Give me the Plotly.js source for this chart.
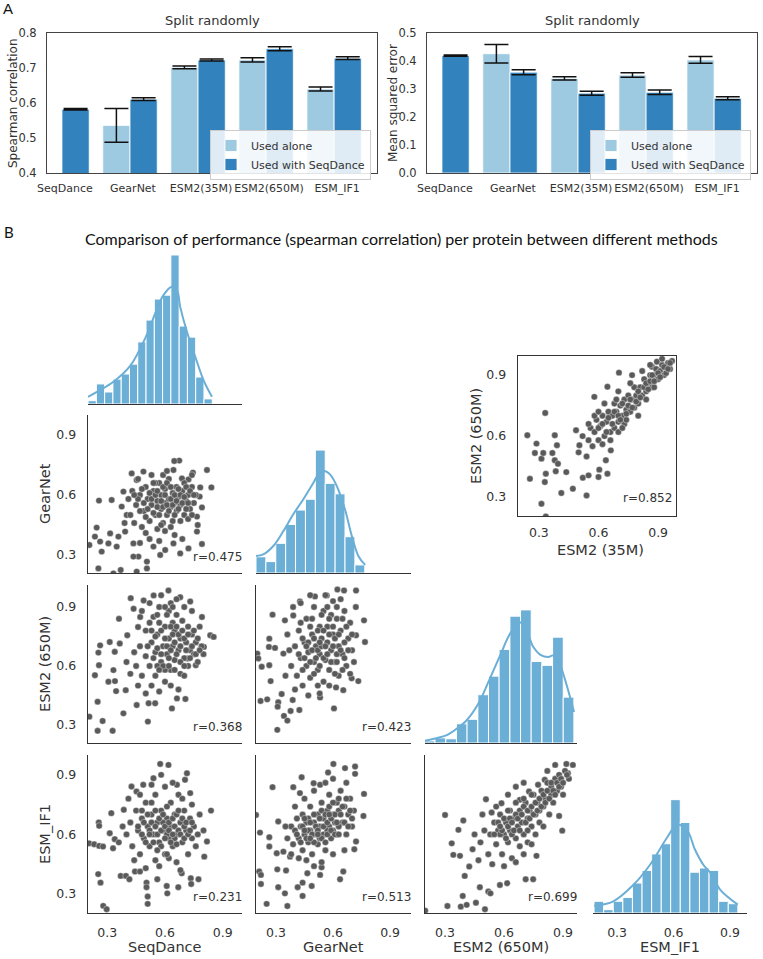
<!DOCTYPE html>
<html><head><meta charset="utf-8">
<script src="https://cdn.plot.ly/plotly-3.0.1.min.js"></script>
<style>html,body{margin:0;padding:0;background:#fff}#chart{width:763px;height:959px}</style>
</head><body><div id="chart"></div>
<script>
// ---------- Panel A data ----------
const barCategories = ['SeqDance','GearNet','ESM2(35M)','ESM2(650M)','ESM_IF1'];
const spearmanAlone    = [null, 0.536, 0.702, 0.723, 0.640];
const spearmanAloneErr = [null, 0.048, 0.004, 0.006, 0.006];
const spearmanWith     = [0.582, 0.611, 0.723, 0.755, 0.728];
const spearmanWithErr  = [0.002, 0.004, 0.003, 0.006, 0.004];
const mseAlone    = [null, 0.426, 0.338, 0.350, 0.404];
const mseAloneErr = [null, 0.033, 0.006, 0.008, 0.012];
const mseWith     = [0.419, 0.360, 0.285, 0.288, 0.267];
const mseWithErr  = [0.002, 0.009, 0.007, 0.008, 0.005];
const seriesNames = ['Used alone','Used with SeqDance'];

// ---------- Panel B: diagonal histograms (bin centres, bin width, heights) ----------
const methodNames = ['SeqDance','GearNet','ESM2 (650M)','ESM_IF1'];
const hist1X = [0.222,0.265,0.308,0.351,0.394,0.437,0.480,0.523,0.566,0.609,0.652,0.695,0.738,0.781,0.824];
const hist1Y = [1.1,6.7,4.0,8.3,10.0,13.3,20.7,28.0,35.0,36.3,49.7,26.0,22.3,9.0,1.7];
const hist2X = [0.221,0.273,0.325,0.377,0.429,0.481,0.533,0.585,0.637,0.689,0.741];
const hist2Y = [5.4,3.8,9.9,16.2,21.0,24.6,41.0,29.9,26.4,12.1,2.7];
const hist3X = [0.222,0.276,0.331,0.385,0.439,0.494,0.548,0.602,0.657,0.711,0.765,0.820,0.874,0.928];
const hist3Y = [0.7,1.7,1.4,6.4,7.9,16.1,22.3,31.2,42.3,44.4,27.2,25.9,35.3,15.3];
const hist4X = [0.203,0.254,0.305,0.356,0.407,0.458,0.509,0.560,0.610,0.661,0.712,0.763,0.814,0.865,0.916];
const hist4Y = [3.9,1.1,3.9,5.2,10.0,14.2,19.7,23.1,37.8,30.2,13.6,15.0,14.2,3.9,3.1];
const histBinWidths = [0.043,0.052,0.0543,0.0509];
// KDE curves
const kde1X = [0.2,0.249,0.332,0.419,0.505,0.549,0.592,0.636,0.662,0.679,0.714,0.757,0.8,0.844];
const kde1Y = [2.4,4.1,7.4,12.7,23,30.2,36.3,39.1,38,32.4,24.1,15.8,8,2.4];
const kde2X = [0.195,0.233,0.286,0.339,0.391,0.444,0.497,0.523,0.553,0.584,0.62,0.663,0.699,0.733,0.769];
const kde2Y = [5.7,6.2,9,14,19.6,24.6,30.1,32.9,34,32.9,29,21.2,12.3,5.7,2.7];
const kde3X = [0.195,0.249,0.309,0.36,0.41,0.469,0.52,0.58,0.631,0.681,0.716,0.749,0.783,0.825,0.851,0.885,0.919,0.956];
const kde3Y = [0.7,1.5,2.6,4.8,7.6,13.1,20.3,29.2,36.5,40.3,37,32,29.5,28.7,29.2,25.9,19.2,10.3];
const kde4X = [0.178,0.28,0.387,0.475,0.564,0.617,0.67,0.714,0.758,0.803,0.847,0.941];
const kde4Y = [2.4,3.9,9.4,16.1,25,29.4,27.8,21.1,16.1,12.8,7.8,2.8];

// ---------- Panel B: scatter points [x, y] ----------
const seqVsGear = [[0.207,0.35],[0.257,0.572],[0.245,0.437],[0.236,0.392],[0.263,0.367],[0.271,0.317],[0.254,0.233],[0.332,0.208],[0.37,0.225],[0.453,0.217],[0.506,0.233],[0.462,0.292],[0.506,0.267],[0.315,0.408],[0.306,0.358],[0.349,0.342],[0.323,0.575],[0.375,0.542],[0.358,0.392],[0.393,0.417],[0.384,0.617],[0.401,0.5],[0.427,0.708],[0.453,0.675],[0.488,0.717],[0.436,0.292],[0.436,0.358],[0.54,0.342],[0.575,0.3],[0.601,0.325],[0.644,0.725],[0.674,0.772],[0.648,0.77],[0.688,0.683],[0.722,0.678],[0.745,0.712],[0.818,0.725],[0.841,0.638],[0.783,0.638],[0.78,0.592],[0.792,0.538],[0.766,0.492],[0.722,0.333],[0.792,0.355],[0.679,0.308],[0.644,0.358],[0.766,0.417],
[0.45,0.55],[0.47,0.6],[0.49,0.52],[0.5,0.64],[0.51,0.58],[0.52,0.47],[0.53,0.55],[0.54,0.62],[0.55,0.5],[0.56,0.57],[0.57,0.66],[0.58,0.53],[0.58,0.6],[0.59,0.46],[0.6,0.56],[0.6,0.63],[0.61,0.5],[0.62,0.58],[0.62,0.68],[0.63,0.54],[0.64,0.61],[0.64,0.47],[0.65,0.56],[0.66,0.64],[0.66,0.52],[0.67,0.59],[0.68,0.55],[0.69,0.62],[0.7,0.5],[0.7,0.66],[0.71,0.57],[0.72,0.6],[0.73,0.53],[0.74,0.64],[0.75,0.56],[0.76,0.6],[0.77,0.45],[0.48,0.44],[0.5,0.41],[0.43,0.62],[0.42,0.5],[0.44,0.46],[0.46,0.68],[0.53,0.7],[0.56,0.43],[0.6,0.42],[0.63,0.44],[0.68,0.47],[0.72,0.48],[0.55,0.66],[0.59,0.7],[0.52,0.38],[0.57,0.37],[0.65,0.4],[0.69,0.38],[0.47,0.36],[0.41,0.58],[0.39,0.46],[0.61,0.72],[0.74,0.7],
[0.46,0.58],[0.48,0.63],[0.49,0.56],[0.51,0.53],[0.52,0.61],[0.53,0.58],[0.54,0.51],[0.55,0.6],[0.56,0.54],[0.56,0.62],[0.57,0.5],[0.58,0.57],[0.59,0.64],[0.59,0.54],[0.6,0.6],[0.61,0.55],[0.61,0.66],[0.62,0.52],[0.63,0.58],[0.63,0.64],[0.64,0.55],[0.65,0.6],[0.65,0.5],[0.66,0.57],[0.67,0.63],[0.67,0.53],[0.68,0.6],[0.69,0.56],[0.7,0.59],[0.71,0.53],[0.71,0.64],[0.72,0.56],[0.73,0.62],[0.74,0.5],[0.75,0.6],[0.54,0.66],[0.5,0.49],[0.47,0.52],[0.44,0.6],[0.58,0.45]];
const seqVsEsm650 = [[0.207,0.342],[0.25,0.27],[0.328,0.27],[0.276,0.32],[0.25,0.418],[0.236,0.553],[0.257,0.604],[0.254,0.668],[0.263,0.705],[0.306,0.52],[0.34,0.523],[0.332,0.579],[0.384,0.359],[0.453,0.401],[0.511,0.317],[0.515,0.41],[0.549,0.41],[0.636,0.384],[0.662,0.435],[0.706,0.432],[0.346,0.472],[0.396,0.477],[0.361,0.84],[0.422,0.945],[0.489,0.933],[0.541,0.959],[0.618,0.984],[0.679,0.95],[0.731,0.928],[0.835,0.756],[0.792,0.849],[0.853,0.748],[0.802,0.697],[0.76,0.604],[0.716,0.638],[0.404,0.756],[0.365,0.714],[0.339,0.672],[0.313,0.722],[0.46,0.798],[0.437,0.891],[0.471,0.849],
[0.45,0.6],[0.47,0.7],[0.48,0.55],[0.5,0.65],[0.5,0.78],[0.52,0.6],[0.53,0.72],[0.54,0.85],[0.55,0.55],[0.55,0.67],[0.56,0.76],[0.57,0.9],[0.58,0.62],[0.59,0.7],[0.6,0.8],[0.6,0.52],[0.61,0.66],[0.62,0.74],[0.62,0.88],[0.63,0.58],[0.64,0.7],[0.65,0.78],[0.65,0.63],[0.66,0.94],[0.67,0.68],[0.68,0.74],[0.68,0.56],[0.69,0.83],[0.7,0.64],[0.71,0.72],[0.72,0.6],[0.72,0.8],[0.73,0.68],[0.74,0.76],[0.75,0.66],[0.76,0.72],[0.77,0.62],[0.78,0.8],[0.79,0.7],[0.8,0.66],[0.46,0.5],[0.5,0.46],[0.53,0.5],[0.57,0.47],[0.63,0.5],[0.67,0.48],[0.7,0.55],[0.44,0.67],[0.48,0.88],[0.52,0.92],[0.58,0.96],[0.63,0.92],[0.7,0.9],[0.74,0.88],[0.56,0.6],[0.6,0.58],[0.64,0.82],[0.66,0.86],[0.42,0.56],[0.4,0.62],
[0.51,0.7],[0.52,0.82],[0.54,0.64],[0.55,0.75],[0.56,0.69],[0.57,0.82],[0.58,0.66],[0.58,0.78],[0.59,0.6],[0.6,0.74],[0.61,0.86],[0.61,0.7],[0.62,0.64],[0.63,0.8],[0.63,0.68],[0.64,0.76],[0.65,0.58],[0.65,0.72],[0.66,0.8],[0.66,0.66],[0.67,0.76],[0.68,0.62],[0.68,0.7],[0.69,0.78],[0.7,0.74],[0.7,0.6],[0.71,0.68],[0.72,0.76],[0.73,0.64],[0.74,0.7],[0.75,0.78],[0.76,0.66],[0.77,0.74],[0.78,0.68],[0.6,0.9],[0.64,0.9],[0.56,0.86],[0.53,0.78],[0.57,0.58],[0.62,0.6]];
const gearVsEsm650 = [[0.202,0.663],[0.207,0.638],[0.225,0.596],[0.265,0.604],[0.263,0.697],[0.265,0.739],[0.282,0.861],[0.219,0.422],[0.254,0.43],[0.272,0.523],[0.312,0.415],[0.309,0.393],[0.33,0.457],[0.307,0.275],[0.342,0.346],[0.36,0.322],[0.388,0.427],[0.377,0.371],[0.423,0.376],[0.532,0.44],[0.605,0.384],[0.616,0.491],[0.654,0.477],[0.698,0.537],[0.733,0.523],[0.768,0.722],[0.763,0.832],[0.721,0.756],[0.721,0.984],[0.658,0.984],[0.623,0.989],[0.567,0.959],[0.505,0.954],[0.426,0.928],[0.347,0.832],[0.391,0.857],[0.295,0.692],[0.339,0.663],
[0.38,0.6],[0.4,0.7],[0.41,0.55],[0.42,0.78],[0.43,0.64],[0.44,0.5],[0.45,0.72],[0.46,0.6],[0.46,0.84],[0.47,0.67],[0.48,0.54],[0.49,0.76],[0.5,0.62],[0.5,0.9],[0.51,0.7],[0.52,0.58],[0.53,0.8],[0.53,0.66],[0.54,0.74],[0.55,0.52],[0.55,0.88],[0.56,0.63],[0.57,0.72],[0.57,0.8],[0.58,0.58],[0.59,0.68],[0.6,0.76],[0.6,0.93],[0.61,0.62],[0.62,0.84],[0.63,0.7],[0.63,0.55],[0.64,0.78],[0.65,0.66],[0.66,0.88],[0.67,0.6],[0.68,0.74],[0.69,0.82],[0.7,0.68],[0.71,0.62],[0.72,0.9],[0.36,0.76],[0.39,0.9],[0.43,0.92],[0.48,0.96],[0.52,0.5],[0.58,0.5],[0.4,0.48],[0.35,0.55],[0.37,0.68],[0.44,0.58],[0.49,0.84],[0.56,0.96],[0.62,0.66],[0.66,0.72],[0.69,0.56],[0.47,0.45],[0.53,0.46],[0.59,0.86],[0.64,0.94],
[0.42,0.66],[0.44,0.74],[0.45,0.64],[0.47,0.72],[0.48,0.62],[0.49,0.68],[0.5,0.74],[0.51,0.64],[0.52,0.78],[0.52,0.68],[0.53,0.6],[0.54,0.7],[0.55,0.78],[0.55,0.64],[0.56,0.7],[0.57,0.66],[0.58,0.76],[0.58,0.84],[0.59,0.62],[0.6,0.7],[0.6,0.8],[0.61,0.74],[0.62,0.62],[0.62,0.9],[0.63,0.76],[0.64,0.68],[0.65,0.84],[0.66,0.64],[0.67,0.8],[0.68,0.68],[0.7,0.76],[0.5,0.56],[0.46,0.7],[0.43,0.82],[0.54,0.86],[0.57,0.9],[0.61,0.56],[0.65,0.58],[0.48,0.8],[0.53,0.72]];
const seqVsIf1 = [[0.206,0.555],[0.232,0.55],[0.258,0.542],[0.278,0.539],[0.256,0.66],[0.258,0.643],[0.253,0.4],[0.265,0.357],[0.279,0.24],[0.297,0.223],[0.313,0.606],[0.321,0.707],[0.339,0.576],[0.33,0.53],[0.37,0.391],[0.397,0.391],[0.415,0.374],[0.444,0.413],[0.47,0.413],[0.504,0.357],[0.504,0.334],[0.51,0.287],[0.51,0.25],[0.56,0.374],[0.609,0.34],[0.612,0.303],[0.669,0.334],[0.687,0.404],[0.734,0.379],[0.774,0.374],[0.736,0.35],[0.818,0.564],[0.804,0.488],[0.839,0.72],[0.731,0.808],[0.714,0.908],[0.575,0.955],[0.618,0.95],[0.54,0.883],[0.487,0.85],[0.426,0.841],[0.386,0.724],[0.452,0.816],[0.662,0.85],[0.704,0.875],
[0.4,0.6],[0.42,0.66],[0.43,0.54],[0.45,0.72],[0.46,0.62],[0.47,0.5],[0.48,0.68],[0.49,0.58],[0.5,0.76],[0.51,0.64],[0.52,0.54],[0.53,0.7],[0.54,0.6],[0.55,0.8],[0.55,0.47],[0.56,0.66],[0.57,0.56],[0.58,0.72],[0.59,0.62],[0.6,0.5],[0.6,0.84],[0.61,0.68],[0.62,0.58],[0.63,0.76],[0.63,0.64],[0.64,0.54],[0.65,0.7],[0.66,0.6],[0.66,0.46],[0.67,0.8],[0.68,0.66],[0.69,0.56],[0.7,0.72],[0.71,0.62],[0.72,0.5],[0.73,0.68],[0.74,0.58],[0.75,0.64],[0.76,0.54],[0.77,0.6],[0.78,0.7],[0.44,0.47],[0.5,0.43],[0.57,0.44],[0.62,0.48],[0.68,0.42],[0.41,0.78],[0.47,0.8],[0.53,0.85],[0.58,0.9],[0.64,0.86],[0.69,0.78],[0.74,0.75],[0.8,0.62],[0.38,0.64],[0.36,0.56],[0.52,0.62],[0.59,0.66],[0.65,0.58],[0.61,0.6],
[0.46,0.64],[0.48,0.6],[0.49,0.66],[0.5,0.56],[0.51,0.7],[0.52,0.6],[0.53,0.66],[0.54,0.56],[0.55,0.64],[0.55,0.72],[0.56,0.6],[0.57,0.68],[0.58,0.62],[0.58,0.54],[0.59,0.7],[0.6,0.64],[0.6,0.58],[0.61,0.74],[0.62,0.62],[0.62,0.66],[0.63,0.56],[0.64,0.68],[0.64,0.6],[0.65,0.64],[0.66,0.7],[0.66,0.55],[0.67,0.62],[0.68,0.6],[0.69,0.68],[0.7,0.58],[0.7,0.64],[0.71,0.66],[0.72,0.6],[0.73,0.62],[0.74,0.66],[0.56,0.52],[0.53,0.76],[0.48,0.72],[0.61,0.5],[0.67,0.72]];
const gearVsIf1 = [[0.195,0.698],[0.216,0.609],[0.212,0.413],[0.221,0.396],[0.221,0.35],[0.251,0.25],[0.265,0.586],[0.265,0.539],[0.282,0.838],[0.312,0.334],[0.307,0.424],[0.347,0.303],[0.36,0.239],[0.353,0.418],[0.391,0.838],[0.426,0.808],[0.435,0.888],[0.414,0.334],[0.44,0.357],[0.465,0.404],[0.44,0.29],[0.488,0.34],[0.532,0.396],[0.54,0.434],[0.637,0.374],[0.654,0.413],[0.712,0.525],[0.721,0.564],[0.76,0.693],[0.763,0.804],[0.716,0.905],[0.716,0.942],[0.663,0.934],[0.602,0.955],[0.574,0.912],[0.532,0.85],[0.498,0.858],[0.312,0.665],[0.304,0.505],[0.339,0.513],[0.374,0.488],
[0.36,0.58],[0.38,0.64],[0.39,0.55],[0.4,0.62],[0.41,0.68],[0.42,0.58],[0.43,0.64],[0.44,0.52],[0.44,0.7],[0.45,0.6],[0.46,0.66],[0.47,0.56],[0.48,0.62],[0.48,0.74],[0.49,0.5],[0.5,0.66],[0.51,0.6],[0.52,0.7],[0.52,0.55],[0.53,0.64],[0.54,0.76],[0.55,0.6],[0.55,0.68],[0.56,0.52],[0.57,0.72],[0.58,0.64],[0.58,0.8],[0.59,0.58],[0.6,0.7],[0.61,0.66],[0.62,0.76],[0.62,0.6],[0.63,0.72],[0.64,0.82],[0.65,0.66],[0.66,0.74],[0.67,0.6],[0.68,0.7],[0.69,0.78],[0.7,0.64],[0.71,0.72],[0.46,0.47],[0.5,0.44],[0.54,0.46],[0.6,0.5],[0.66,0.52],[0.42,0.48],[0.38,0.5],[0.45,0.78],[0.5,0.82],[0.56,0.86],[0.6,0.88],[0.67,0.86],[0.35,0.64],[0.4,0.74],[0.53,0.58],[0.57,0.62],[0.63,0.64],[0.47,0.68],[0.6,0.62],
[0.41,0.6],[0.43,0.56],[0.44,0.64],[0.45,0.68],[0.46,0.58],[0.47,0.62],[0.48,0.66],[0.49,0.6],[0.5,0.7],[0.5,0.56],[0.51,0.64],[0.52,0.62],[0.53,0.68],[0.54,0.58],[0.54,0.72],[0.55,0.64],[0.56,0.7],[0.57,0.6],[0.57,0.66],[0.58,0.74],[0.59,0.62],[0.59,0.68],[0.6,0.76],[0.61,0.6],[0.61,0.7],[0.62,0.66],[0.63,0.78],[0.63,0.6],[0.64,0.7],[0.65,0.74],[0.66,0.66],[0.67,0.78],[0.68,0.64],[0.69,0.72],[0.7,0.68],[0.52,0.6],[0.56,0.56],[0.58,0.7],[0.48,0.58],[0.45,0.62]];
const esm650VsIf1 = [[0.199,0.216],[0.3,0.698],[0.312,0.239],[0.334,0.555],[0.342,0.497],[0.376,0.492],[0.368,0.623],[0.393,0.67],[0.39,0.29],[0.38,0.236],[0.41,0.245],[0.4,0.391],[0.423,0.438],[0.44,0.525],[0.457,0.256],[0.477,0.334],[0.503,0.223],[0.508,0.777],[0.52,0.312],[0.531,0.303],[0.537,0.71],[0.587,0.757],[0.579,0.345],[0.616,0.354],[0.71,0.374],[0.748,0.374],[0.765,0.492],[0.896,0.619],[0.88,0.693],[0.917,0.955],[0.95,0.95],[0.925,0.908],[0.807,0.875],[0.773,0.85],[0.727,0.816],[0.68,0.774],
[0.45,0.6],[0.48,0.56],[0.5,0.62],[0.52,0.5],[0.53,0.6],[0.55,0.66],[0.56,0.55],[0.57,0.62],[0.58,0.7],[0.59,0.5],[0.6,0.6],[0.61,0.66],[0.62,0.56],[0.63,0.72],[0.63,0.62],[0.64,0.48],[0.65,0.68],[0.66,0.58],[0.67,0.64],[0.68,0.72],[0.68,0.54],[0.69,0.66],[0.7,0.6],[0.71,0.76],[0.72,0.68],[0.72,0.56],[0.73,0.72],[0.74,0.64],[0.75,0.8],[0.76,0.7],[0.77,0.76],[0.78,0.66],[0.79,0.82],[0.8,0.74],[0.81,0.78],[0.82,0.86],[0.83,0.7],[0.84,0.8],[0.85,0.76],[0.86,0.88],[0.87,0.82],[0.88,0.9],[0.89,0.84],[0.9,0.8],[0.91,0.92],[0.93,0.88],[0.6,0.44],[0.66,0.46],[0.7,0.5],[0.74,0.55],[0.54,0.45],[0.47,0.47],[0.49,0.7],[0.56,0.74],[0.62,0.8],[0.66,0.84],[0.7,0.86],[0.76,0.6],[0.8,0.64],[0.82,0.92],[0.86,0.95],[0.58,0.6],[0.64,0.6],[0.72,0.62],[0.78,0.72],[0.84,0.84],
[0.55,0.6],[0.57,0.66],[0.59,0.62],[0.6,0.68],[0.61,0.58],[0.62,0.64],[0.63,0.68],[0.64,0.66],[0.65,0.62],[0.66,0.7],[0.67,0.68],[0.68,0.62],[0.69,0.7],[0.7,0.74],[0.71,0.66],[0.72,0.72],[0.73,0.68],[0.74,0.74],[0.75,0.7],[0.76,0.76],[0.77,0.72],[0.78,0.78],[0.79,0.74],[0.8,0.8],[0.81,0.76],[0.82,0.82],[0.83,0.78],[0.84,0.86],[0.85,0.82],[0.86,0.8],[0.87,0.86],[0.88,0.84],[0.89,0.88],[0.9,0.86],[0.92,0.9],[0.66,0.76],[0.7,0.78],[0.74,0.8],[0.62,0.72],[0.58,0.64]];
const esm35VsEsm650 = [[0.242,0.604],[0.288,0.563],[0.28,0.517],[0.255,0.39],[0.313,0.489],[0.322,0.517],[0.332,0.714],[0.335,0.415],[0.33,0.374],[0.313,0.267],[0.335,0.205],[0.368,0.517],[0.38,0.481],[0.38,0.604],[0.391,0.555],[0.396,0.464],[0.385,0.427],[0.413,0.32],[0.438,0.423],[0.471,0.341],[0.487,0.629],[0.504,0.555],[0.521,0.395],[0.54,0.308],[0.55,0.407],[0.6,0.399],[0.604,0.435],[0.645,0.415],[0.579,0.793],[0.645,0.843],[0.703,0.912],[0.769,0.9],[0.869,0.941],[0.894,0.966],[0.662,0.53],[0.637,0.481],
[0.5,0.52],[0.52,0.6],[0.54,0.5],[0.55,0.58],[0.56,0.64],[0.57,0.55],[0.58,0.62],[0.59,0.68],[0.6,0.58],[0.61,0.65],[0.62,0.7],[0.63,0.6],[0.64,0.67],[0.65,0.72],[0.66,0.62],[0.67,0.7],[0.68,0.76],[0.68,0.64],[0.69,0.72],[0.7,0.67],[0.71,0.75],[0.72,0.7],[0.73,0.78],[0.73,0.66],[0.74,0.73],[0.75,0.8],[0.76,0.72],[0.77,0.78],[0.78,0.84],[0.78,0.74],[0.79,0.8],[0.8,0.76],[0.81,0.84],[0.82,0.8],[0.83,0.88],[0.84,0.82],[0.85,0.86],[0.86,0.9],[0.87,0.84],[0.88,0.9],[0.89,0.93],[0.9,0.88],[0.91,0.92],[0.92,0.95],[0.93,0.9],[0.94,0.94],[0.95,0.96],[0.96,0.93],[0.97,0.97],[0.62,0.56],[0.66,0.58],[0.7,0.62],[0.74,0.68],[0.8,0.7],[0.84,0.78],[0.88,0.84],[0.58,0.7],[0.63,0.76],[0.7,0.82],[0.76,0.86],[0.82,0.92],[0.86,0.95],[0.92,0.98],[0.55,0.66],[0.6,0.72],
[0.6,0.64],[0.62,0.66],[0.64,0.62],[0.65,0.69],[0.67,0.66],[0.68,0.72],[0.7,0.7],[0.71,0.68],[0.72,0.76],[0.74,0.71],[0.75,0.75],[0.76,0.78],[0.77,0.74],[0.79,0.77],[0.8,0.82],[0.81,0.79],[0.83,0.84],[0.84,0.86],[0.85,0.83],[0.86,0.87],[0.87,0.9],[0.88,0.87],[0.9,0.91],[0.91,0.89],[0.93,0.94],[0.94,0.91],[0.95,0.93],[0.96,0.96],[0.72,0.64],[0.69,0.78]];
const rLabels = {seqGear:'r=0.475', seqEsm650:'r=0.368', gearEsm650:'r=0.423', seqIf1:'r=0.231', gearIf1:'r=0.513', esm650If1:'r=0.699', esm35Esm650:'r=0.852'};

// ---------- drawing ----------
const W = 763, H = 959;
const FONT = 'DejaVu Sans';
const TXT = '#333333';
const LIGHT = '#9ecae1', DARK = '#3182bd', HISTC = '#6baed6', DOT = '#5a5a5a', AX = '#333333';
function dx(a,b){return [a/W, b/W];}
function dy(t,b){return [1-b/H, 1-t/H];}
const traces = [];
const layout = {width:W, height:H, margin:{l:0,r:0,t:0,b:0}, paper_bgcolor:'white', plot_bgcolor:'rgba(0,0,0,0)',
  barmode:'overlay', showlegend:true, font:{family:FONT, color:TXT}, annotations:[]};
function ann(text, xpx, ypx, size, opts){
  layout.annotations.push(Object.assign({text:text, xref:'paper', yref:'paper', x:xpx/W, y:1-ypx/H, showarrow:false,
    xanchor:'center', yanchor:'middle', font:{family:FONT, size:size, color:TXT}}, opts||{}));
}

// Panel A
function barPanel(ax, ay, alone, aloneErr, withS, withErr, legendId){
  traces.push({type:'bar', x:barCategories, y:alone, xaxis:ax, yaxis:ay, width:0.4, offset:-0.4, name:seriesNames[0], legend:legendId,
    marker:{color:LIGHT, line:{color:'white', width:0.8}}, hoverinfo:'skip',
    error_y:{type:'data', array:aloneErr, visible:true, color:'#111', thickness:1.5, width:12}});
  traces.push({type:'bar', x:barCategories, y:withS, xaxis:ax, yaxis:ay, width:0.4, offset:0, name:seriesNames[1], legend:legendId,
    marker:{color:DARK, line:{color:'white', width:0.8}}, hoverinfo:'skip',
    error_y:{type:'data', array:withErr, visible:true, color:'#111', thickness:1.5, width:12}});
}
barPanel('x','y',spearmanAlone,spearmanAloneErr,spearmanWith,spearmanWithErr,'legend');
barPanel('x2','y2',mseAlone,mseAloneErr,mseWith,mseWithErr,'legend2');
const aX = {type:'category', range:[-0.22,4.63], showline:true, mirror:true, linecolor:'#444', linewidth:1, ticks:'', showgrid:false, zeroline:false,
  tickfont:{family:FONT, size:11, color:TXT}, ticklabelstandoff:5, ticklabelshift:3};
const aY = {showline:true, mirror:true, linecolor:'#444', linewidth:1, ticks:'', showgrid:false, zeroline:false, tickformat:'.1f',
  tickfont:{family:FONT, size:11.5, color:TXT}, ticklabelstandoff:7};
layout.xaxis  = Object.assign({}, aX, {domain:dx(47,377), anchor:'y'});
layout.yaxis  = Object.assign({}, aY, {domain:dy(33,173), anchor:'x', range:[0.4,0.8], tickvals:[0.4,0.5,0.6,0.7,0.8]});
layout.xaxis2 = Object.assign({}, aX, {domain:dx(427,757), anchor:'y2'});
layout.yaxis2 = Object.assign({}, aY, {domain:dy(33,173), anchor:'x2', range:[0,0.5], tickvals:[0,0.1,0.2,0.3,0.4,0.5]});
const legStyle = {xanchor:'right', yanchor:'top', bgcolor:'rgba(255,255,255,0.85)', bordercolor:'#cccccc', borderwidth:1,
  font:{family:FONT, size:11, color:TXT}, tracegroupgap:0, itemwidth:30};
layout.legend  = Object.assign({}, legStyle, {x:371/W, y:1-130/H});
layout.legend2 = Object.assign({}, legStyle, {x:751/W, y:1-130/H});
ann('A', 8, 9, 15, {font:{family:'Liberation Sans', size:15, color:'#111'}});
ann('Split randomly', 212, 21, 13);
ann('Split randomly', 592, 21, 13);
ann('Spearman correlation', 13, 103, 12, {textangle:-90});
ann('Mean squared error', 393, 103, 12, {textangle:-90});

// Panel B
ann('B', 9, 232, 15, {font:{family:'Lato', size:15, color:'#111'}});
ann('Comparison of performance (spearman correlation) per protein between different methods', 401, 238, 16,
  {font:{family:'Lato', size:16, color:'#111'}});
const colPx = [[88,242],[256,411],[425,577],[593,747]];
const rowPx = [[246,404],[415,573],[585,743],[755,913]];
const colRange = [[0.2,1.0],[0.195,1.01],[0.198,0.971],[0.172,0.99]];
const rowRange = [null,[0.21,1.0],[0.208,1.012],[0.204,1.0]];
const histX = [hist1X,hist2X,hist3X,hist4X], histY = [hist1Y,hist2Y,hist3Y,hist4Y];
const kdeX = [kde1X,kde2X,kde3X,kde4X], kdeY = [kde1Y,kde2Y,kde3Y,kde4Y];
const scat = {'1,0':[seqVsGear,rLabels.seqGear], '2,0':[seqVsEsm650,rLabels.seqEsm650], '2,1':[gearVsEsm650,rLabels.gearEsm650],
  '3,0':[seqVsIf1,rLabels.seqIf1], '3,1':[gearVsIf1,rLabels.gearIf1], '3,2':[esm650VsIf1,rLabels.esm650If1]};
const tickF = {family:FONT, size:12.5, color:TXT};
function bx(extra){return Object.assign({showline:true, linecolor:AX, linewidth:1.3, ticks:'', showgrid:false, zeroline:false,
  tickvals:[0.3,0.6,0.9], tickformat:'.1f', tickfont:tickF, ticklabelstandoff:8}, extra);}
function scatterTrace(pts, xa, ya){
  return {type:'scatter', mode:'markers', x:pts.map(p=>p[0]), y:pts.map(p=>p[1]), xaxis:xa, yaxis:ya, showlegend:false, hoverinfo:'skip',
    marker:{size:6.4, color:DOT, line:{color:'rgba(255,255,255,0.75)', width:0.5}}};
}
let n = 3;
for (let r = 0; r < 4; r++) {
  for (let c = 0; c <= r; c++) {
    const xa = 'x'+n, ya = 'y'+n;
    layout['xaxis'+n] = bx({domain:dx(colPx[c][0],colPx[c][1]), range:colRange[c], anchor:ya, showticklabels:(r===3)});
    if (r === c) {
      layout['yaxis'+n] = {domain:dy(rowPx[r][0],rowPx[r][1]), range:[0,52.7], anchor:xa, visible:false, fixedrange:true};
      traces.push({type:'bar', x:histX[r], y:histY[r], width:histBinWidths[r], xaxis:xa, yaxis:ya, showlegend:false, hoverinfo:'skip',
        marker:{color:HISTC, line:{color:'white', width:1}}});
      traces.push({type:'scatter', mode:'lines', x:kdeX[r], y:kdeY[r], xaxis:xa, yaxis:ya, showlegend:false, hoverinfo:'skip',
        line:{color:HISTC, width:2, shape:'spline', smoothing:1}});
    } else {
      layout['yaxis'+n] = bx({domain:dy(rowPx[r][0],rowPx[r][1]), range:rowRange[r], anchor:xa, showticklabels:(c===0)});
      const s = scat[r+','+c];
      traces.push(scatterTrace(s[0], xa, ya));
      layout.annotations.push({text:s[1], xref:xa+' domain', yref:ya+' domain', x:1.01, y:0.1, xanchor:'right', yanchor:'middle',
        showarrow:false, font:{family:FONT, size:12, color:TXT}});
    }
    n++;
  }
}
// row / column labels
ann(methodNames[1], 45, 494, 14.5, {textangle:-90});
ann(methodNames[2], 45, 664, 14.5, {textangle:-90});
ann(methodNames[3], 45, 834, 14.5, {textangle:-90});
[165,333,501,670].forEach((xp,i)=>ann(methodNames[i], xp, 947, 14.5));

// inset: ESM2 (35M) vs ESM2 (650M)
layout['xaxis'+n] = bx({domain:dx(518,676), range:[0.195,0.99], anchor:'y'+n, mirror:true, ticklabelstandoff:5});
layout['yaxis'+n] = bx({domain:dy(356,516), range:[0.207,0.994], anchor:'x'+n, mirror:true});
traces.push(scatterTrace(esm35VsEsm650, 'x'+n, 'y'+n));
layout.annotations.push({text:rLabels.esm35Esm650, xref:'x'+n+' domain', yref:'y'+n+' domain', x:0.99, y:0.11, xanchor:'right', yanchor:'middle',
  showarrow:false, font:{family:FONT, size:12, color:TXT}});
ann('ESM2 (35M)', 600, 550, 14.5);
ann('ESM2 (650M)', 476, 436, 14.5, {textangle:-90});

Plotly.newPlot('chart', traces, layout, {staticPlot:true, displayModeBar:false});
</script></body></html>
